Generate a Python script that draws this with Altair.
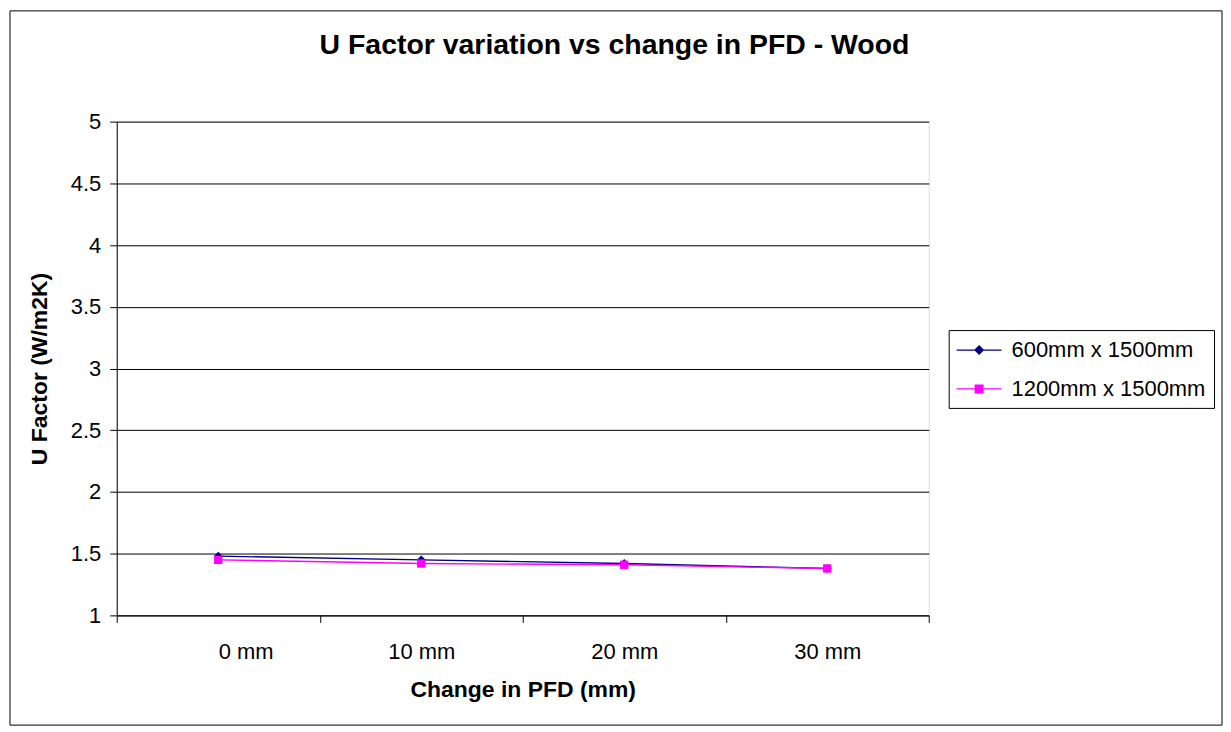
import altair as alt
import pandas as pd

categories = ["0 mm", "10 mm", "20 mm", "30 mm"]
series_names = ["600mm x 1500mm", "1200mm x 1500mm"]
u_600 = [1.48, 1.45, 1.42, 1.38]
u_1200 = [1.45, 1.42, 1.41, 1.38]
y_ticks = [1, 1.5, 2, 2.5, 3, 3.5, 4, 4.5, 5]
colors = ["#000080", "#FF00FF"]

rows = []
for i, c in enumerate(categories):
    rows.append({"pos": i + 0.5, "cat": c, "series": series_names[0], "u": u_600[i]})
for i, c in enumerate(categories):
    rows.append({"pos": i + 0.5, "cat": c, "series": series_names[1], "u": u_1200[i]})
df = pd.DataFrame(rows)

FONT = "Liberation Sans"
W, H = 814, 495

label_list = "[" + ",".join("'" + c + "'" for c in categories) + ",'']"

x_enc = alt.X(
    "pos:Q",
    scale=alt.Scale(domain=[0, len(categories)], nice=False, zero=False),
    axis=alt.Axis(
        values=list(range(len(categories) + 1)),
        labelExpr=label_list + "[datum.value]",
        labelOffset=W / len(categories) / 2,
        grid=False,
        tickSize=7,
        tickColor="#000000",
        domainColor="#000000",
        labelFontSize=22,
        labelPadding=19,
        labelFont=FONT,
        labelColor="#000000",
        title="Change in PFD (mm)",
        titleFont=FONT,
        titleFontSize=23,
        titleFontWeight="bold",
        titleColor="#000000",
        titlePadding=16,
    ),
)
y_enc = alt.Y(
    "u:Q",
    scale=alt.Scale(domain=[1, 5], nice=False, zero=False),
    axis=alt.Axis(
        values=y_ticks,
        format=".1~f",
        grid=True,
        gridColor="#000000",
        gridWidth=1,
        tickSize=7,
        tickColor="#000000",
        domainColor="#000000",
        labelFontSize=22,
        labelPadding=9,
        labelFont=FONT,
        labelColor="#000000",
        title="U Factor (W/m2K)",
        titleFont=FONT,
        titleFontSize=23,
        titleFontWeight="bold",
        titleColor="#000000",
        titlePadding=19,
    ),
)
color_scale = alt.Scale(domain=series_names, range=colors)
shape_paths = [
    "M-1,-0.05H2.75V0.05H-1ZM0.875,-0.42L1.295,0L0.875,0.42L0.455,0Z",
    "M-1,-0.05H2.75V0.05H-1ZM0.5,-0.375H1.25V0.375H0.5Z",
]

base = alt.Chart(df)

legend_layer = base.transform_filter("false").mark_point(filled=True, opacity=1).encode(
    x=x_enc,
    y=y_enc,
    color=alt.Color(
        "series:N",
        scale=color_scale,
        legend=alt.Legend(
            title=None,
            orient="none",
            legendX=834,
            legendY=209,
            symbolSize=576,
            symbolStrokeWidth=0,
            labelFont=FONT,
            labelFontSize=22,
            labelColor="#000000",
            labelOffset=31,
            labelLimit=400,
            rowPadding=16,
            padding=8,
            strokeColor="#000000",
            fillColor="#FFFFFF",
            symbolOpacity=1,
        ),
    ),
    shape=alt.Shape("series:N", scale=alt.Scale(domain=series_names, range=shape_paths)),
    size=alt.value(576),
)

lines = base.mark_line(strokeWidth=1.4).encode(
    x=x_enc,
    y=y_enc,
    color=alt.Color("series:N", scale=color_scale),
    detail="series:N",
)

pts_600 = base.transform_filter(alt.datum.series == series_names[0]).mark_point(
    shape="diamond", filled=True, size=80, opacity=1
).encode(x=x_enc, y=y_enc, color=alt.Color("series:N", scale=color_scale))

pts_1200 = base.transform_filter(alt.datum.series == series_names[1]).mark_point(
    shape="square", filled=True, size=70, opacity=1
).encode(x=x_enc, y=y_enc, color=alt.Color("series:N", scale=color_scale))

frame = alt.Chart(alt.Data(values=[{"k": 1}])).mark_rect(
    fill=None, stroke="#000000", strokeWidth=1
).encode(
    x=alt.value(-107),
    x2=alt.value(W + 294),
    y=alt.value(-111),
    y2=alt.value(H + 110),
)

chart = alt.layer(legend_layer, lines, pts_600, pts_1200, frame).properties(
    width=W,
    height=H,
    autosize=alt.AutoSizeParams(type="none"),
    padding={"left": 109, "top": 113, "right": 295, "bottom": 112},
    title=alt.TitleParams(
        "U Factor variation vs  change in PFD - Wood",
        font=FONT,
        fontSize=28.5,
        fontWeight="bold",
        color="#000000",
        anchor="middle",
        frame="group",
        dx=92,
        offset=-49,
    ),
).configure_view(stroke="#808080", strokeWidth=1).configure(background="#FFFFFF")

chart.save("out.html", embed_options={"renderer": "svg", "actions": False})
